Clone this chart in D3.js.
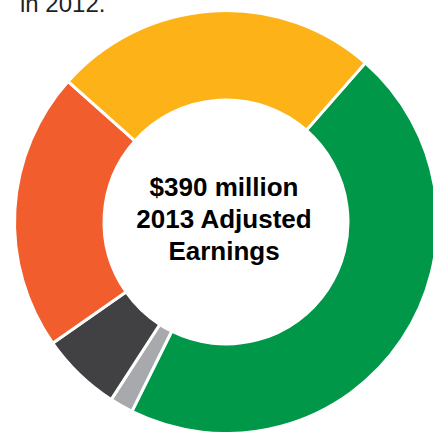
<!DOCTYPE html>
<html>
<head>
<meta charset="utf-8">
<script src="https://cdn.jsdelivr.net/npm/d3@7"></script>
<style>
  html, body { margin: 0; padding: 0; background: #fff; overflow: hidden; }
  svg { display: block; }
</style>
</head>
<body>
<div id="chart"></div>
<script>
// segments in $ millions, clockwise from the green one
const segments = ["Segment A", "Segment B", "Segment C", "Segment D", "Segment E"];
const values = [179, 7, 24, 83, 97];
const colors = ["#009848", "#A7A9AC", "#414042", "#F15D2D", "#FDB318"];
const centerLines = ["$390 million", "2013 Adjusted", "Earnings"];
const topNote = "in 2012.";

const width = 433, height = 432;
const cx = 226, cy = 222;
const outerR = 211.5, innerR = 122;

const svg = d3.select("#chart")
  .append("svg")
  .attr("width", width)
  .attr("height", height);

const data = segments.map((s, i) => ({ name: s, value: values[i], color: colors[i] }));

const pie = d3.pie()
  .sort(null)
  .value(d => d.value)
  .startAngle(41.2 * Math.PI / 180)
  .endAngle((41.2 + 360) * Math.PI / 180);

const arc = d3.arc()
  .innerRadius(innerR)
  .outerRadius(outerR);

const g = svg.append("g")
  .attr("transform", `translate(${cx},${cy})`);

g.selectAll("path")
  .data(pie(data))
  .enter()
  .append("path")
  .attr("d", arc)
  .attr("fill", d => d.data.color)
  .attr("stroke", "#fff")
  .attr("stroke-width", 3)
  .attr("stroke-linejoin", "miter");

g.append("g")
  .selectAll("text")
  .data(centerLines)
  .enter()
  .append("text")
  .attr("text-anchor", "middle")
  .attr("x", -2)
  .attr("y", (d, i) => -26 + i * 32)
  .attr("font-family", "'Liberation Sans', Arial, Helvetica, sans-serif")
  .attr("font-weight", "bold")
  .attr("font-size", 26)
  .attr("fill", "#000")
  .text(d => d);

svg.append("text")
  .attr("x", 20)
  .attr("y", 12)
  .attr("font-family", "'Liberation Sans', Arial, Helvetica, sans-serif")
  .attr("font-size", 24)
  .attr("fill", "#231f20")
  .text(topNote);
</script>
</body>
</html>
